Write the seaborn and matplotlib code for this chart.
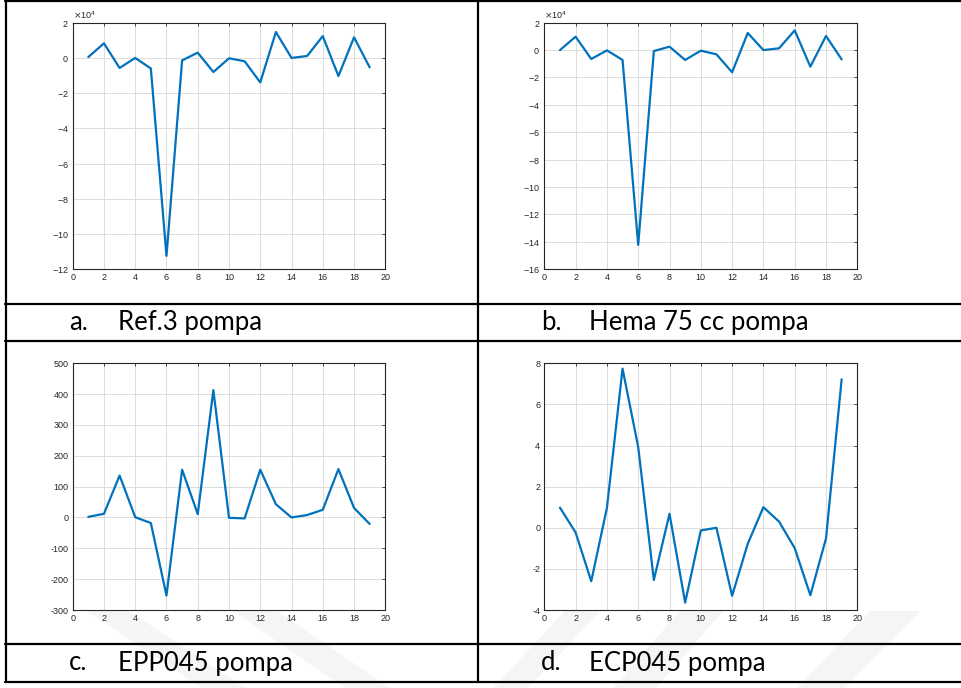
import numpy as np
import pandas as pd
import seaborn as sns
import matplotlib
matplotlib.use("Agg")
import matplotlib.pyplot as plt
from matplotlib.lines import Line2D
from matplotlib.patches import Polygon
from matplotlib.ticker import ScalarFormatter

# ---- data -------------------------------------------------------------
steps = list(range(1, 20))

ref3 = [500, 8300, -5700, 0, -6000, -112400, -1400, 3000, -8000, -200,
        -1900, -13900, 14700, 0, 1100, 12400, -10300, 11700, -5350]
hema75 = [0, 9800, -6500, -200, -7200, -142200, -700, 2500, -7200, -400,
          -3100, -16200, 12500, 0, 1300, 14400, -12100, 10300, -6800]
epp045 = [2, 12, 136, 1, -18, -253, 155, 11, 413, -1,
          -3, 155, 43, 0, 8, 25, 157, 31, -21]
ecp045 = [0.98, -0.23, -2.6, 0.96, 7.74, 3.93, -2.54, 0.68, -3.64, -0.13,
          0.0, -3.31, -0.78, 1.0, 0.3, -0.99, -3.28, -0.52, 7.22]

captions = [("a.", "Ref.3 pompa"), ("b.", "Hema 75 cc pompa"),
            ("c.", "EPP045 pompa"), ("d.", "ECP045 pompa")]
series = [ref3, hema75, epp045, ecp045]
y_limits = [(-120000, 20000), (-160000, 20000), (-300, 500), (-4, 8)]
y_steps = [20000, 20000, 100, 2]
x_ticks = list(range(0, 21, 2))

# ---- style ------------------------------------------------------------
sns.set_style("white")
plt.rcParams["font.family"] = ["Liberation Sans", "DejaVu Sans"]
plt.rcParams["axes.unicode_minus"] = False

W, H = 961, 688
fig = plt.figure(figsize=(W / 100, H / 100), dpi=100)
fig.patch.set_facecolor("white")


def fx(px):
    return px / W


def fy(py):
    return 1 - py / H


# faint diagonal watermark bands in the lower caption row
bands = [
    [(87, 611), (129, 611), (245, 688), (202, 688)],
    [(233, 611), (277, 611), (390, 688), (345, 688)],
    [(565, 611), (600, 611), (528, 688), (493, 688)],
    [(680, 611), (723, 611), (656, 688), (613, 688)],
    [(870, 611), (920, 611), (845, 688), (797, 688)],
]
for b in bands:
    fig.add_artist(Polygon([(fx(x), fy(y)) for x, y in b], closed=True,
                           facecolor="#f5f5f5", edgecolor="none", zorder=0))

ax_boxes = [
    (72.7, 22.7, 385.3, 269.3),
    (544.3, 22.7, 857.3, 269.3),
    (72.7, 363.3, 385.3, 610.0),
    (544.3, 363.3, 857.3, 610.0),
]

ink = "#262626"
for (l, t, r, btm), vals, ylim, ystep in zip(ax_boxes, series, y_limits, y_steps):
    ax = fig.add_axes([fx(l), fy(btm), fx(r) - fx(l), (btm - t) / H])
    ax.patch.set_alpha(0)
    df = pd.DataFrame({"step": steps, "value": vals})
    sns.lineplot(data=df, x="step", y="value", ax=ax, color="#0072BD",
                 linewidth=1.6, zorder=3)
    ax.set_xlim(0, 20)
    ax.set_ylim(*ylim)
    ax.set_xticks(x_ticks)
    ax.set_yticks(np.arange(ylim[0], ylim[1] + ystep / 2, ystep))
    ax.set_xlabel("")
    ax.set_ylabel("")
    ax.grid(True, color="#dcdcdc", linewidth=0.7)
    ax.set_axisbelow(True)
    for s in ax.spines.values():
        s.set_visible(True)
        s.set_color(ink)
        s.set_linewidth(0.8)
    ax.tick_params(direction="in", length=2.5, width=0.6, colors=ink,
                   labelsize=6.5, top=True, right=True, pad=3)
    if ylim[1] > 1000:
        fmt = ScalarFormatter(useMathText=True)
        fmt.set_powerlimits((4, 4))
        ax.yaxis.set_major_formatter(fmt)
        ax.yaxis.get_offset_text().set_fontsize(6.5)
        ax.yaxis.get_offset_text().set_color(ink)

# ---- table grid -------------------------------------------------------
lw = 1.6
for py in (1, 304, 341, 644, 682):
    fig.add_artist(Line2D([fx(5), 1], [fy(py), fy(py)], color="black",
                          linewidth=lw, zorder=5))
for px in (6, 478):
    fig.add_artist(Line2D([fx(px), fx(px)], [fy(1), fy(682)], color="black",
                          linewidth=lw, zorder=5))

# ---- captions ---------------------------------------------------------
cap_pos = [(69, 118, 322.5), (541, 589, 322.5), (69, 118, 663), (541, 589, 663)]
for (lab, txt), (xl, xt, yc) in zip(captions, cap_pos):
    for x, s in ((xl, lab), (xt, txt)):
        fig.text(fx(x), fy(yc), s, fontsize=18.5, family=["Lato", "DejaVu Sans"],
                 color="black", ha="left", va="center", zorder=6)

fig.savefig("out.png", dpi=100)
